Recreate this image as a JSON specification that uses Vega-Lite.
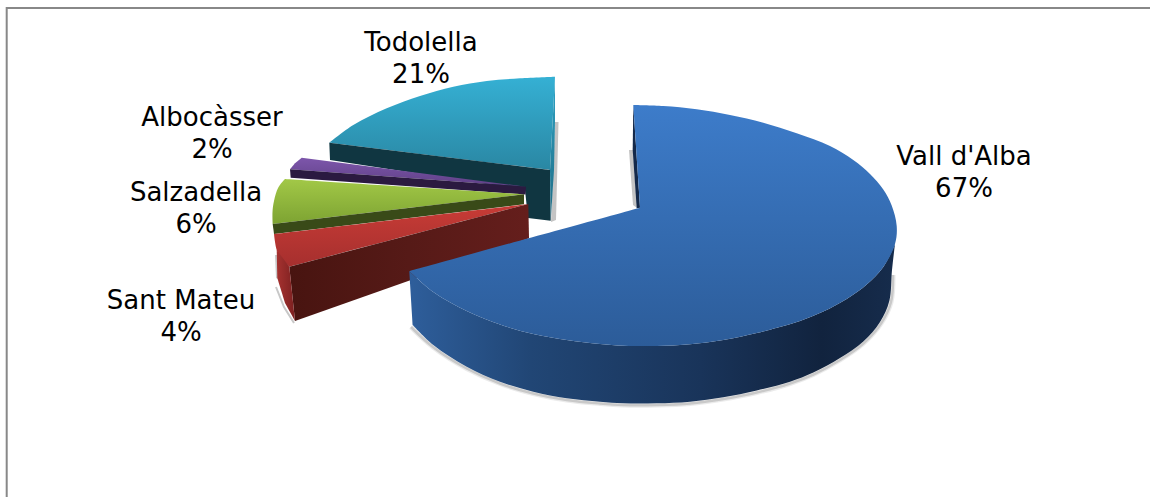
{"$schema":"https://vega.github.io/schema/vega-lite/v6.json","width":1150,"height":497,"padding":0,"autosize":{"type":"fit","contains":"padding"},"background":"white","view":{"stroke":null},
"datasets":{"blueRim":[{"x":411,"y":327},{"x":433,"y":347},{"x":466.7,"y":368.5},{"x":500,"y":383.5},{"x":533.3,"y":393.5},{"x":566.7,"y":400},{"x":600,"y":403.5},{"x":623.3,"y":405},{"x":656.7,"y":405},{"x":690,"y":403.5},{"x":723.3,"y":399},{"x":756.7,"y":392.5},{"x":790,"y":383.5},{"x":813.3,"y":374.5},{"x":840,"y":360},{"x":863.3,"y":343.5},{"x":881,"y":323.5},{"x":891,"y":302},{"x":893,"y":275}]},
"encoding":{"x":{"field":"x","type":"quantitative","scale":{"domain":[0,1150],"nice":false,"zero":false},"axis":null},"y":{"field":"y","type":"quantitative","scale":{"domain":[0,497],"nice":false,"zero":false,"reverse":true},"axis":null},"order":{"value":null}},
"layer":[
{"data":{"values":[{"x":6.7,"y":497},{"x":6.7,"y":8},{"x":1150,"y":8}]},"mark":{"type":"line","stroke":"#888888","strokeWidth":2,"clip":true}},
{"data":{"values":[{"x":555,"y":122},{"x":558.5,"y":122},{"x":556,"y":220},{"x":551,"y":222}]},"mark":{"type":"line","filled":true,"fill":"#c4c4c4","stroke":null}},
{"data":{"values":[{"x":555,"y":76.7},{"x":520,"y":78.3},{"x":486.7,"y":81},{"x":453.3,"y":86.7},{"x":420,"y":96},{"x":386.7,"y":108.3},{"x":353.3,"y":125},{"x":329.3,"y":142.7},{"x":329.3,"y":142.7},{"x":329.3,"y":142.7},{"x":550,"y":170},{"x":550,"y":170},{"x":550,"y":170}]},"mark":{"type":"line","interpolate":"catmull-rom","filled":true,"stroke":null,"fill":{"gradient":"linear","x1":0,"y1":0,"x2":0,"y2":1,"stops":[{"offset":0,"color":"#35b0d4"},{"offset":1,"color":"#2a87a3"}]}}},
{"data":{"values":[{"x":329.3,"y":142.7},{"x":550,"y":170},{"x":550.7,"y":220.7},{"x":528,"y":218},{"x":525,"y":190},{"x":330,"y":160}]},"mark":{"type":"line","filled":true,"stroke":null,"fill":"#103641"}},
{"data":{"values":[{"x":555,"y":76.7},{"x":550,"y":170},{"x":550.7,"y":220.7},{"x":554,"y":170},{"x":555,"y":122}]},"mark":{"type":"line","filled":true,"stroke":null,"fill":{"gradient":"linear","x1":0,"y1":0,"x2":0,"y2":1,"stops":[{"offset":0,"color":"#2fa3c5"},{"offset":1,"color":"#1d6a82"}]}}},
{"data":{"values":[{"x":301.7,"y":157.7},{"x":526,"y":186.7},{"x":290,"y":169.3},{"x":295,"y":163.3}]},"mark":{"type":"line","filled":true,"stroke":null,"fill":{"gradient":"linear","x1":0,"y1":0,"x2":0,"y2":1,"stops":[{"offset":0,"color":"#7d56ab"},{"offset":1,"color":"#5f4086"}]}}},
{"data":{"values":[{"x":290,"y":169.3},{"x":526,"y":186.7},{"x":525.5,"y":194.5},{"x":290.7,"y":177.7}]},"mark":{"type":"line","filled":true,"stroke":null,"fill":"#2b1a40"}},
{"data":{"values":[{"x":285,"y":179},{"x":285,"y":179},{"x":285,"y":179},{"x":524,"y":194.3},{"x":524,"y":194.3},{"x":524,"y":194.3},{"x":272.7,"y":224},{"x":272.7,"y":224},{"x":272.7,"y":224},{"x":272.5,"y":212},{"x":274,"y":201},{"x":278.3,"y":187.5},{"x":285,"y":179}]},"mark":{"type":"line","interpolate":"catmull-rom","filled":true,"stroke":null,"fill":{"gradient":"linear","x1":0,"y1":0,"x2":0,"y2":1,"stops":[{"offset":0,"color":"#a2c847"},{"offset":1,"color":"#7da332"}]}}},
{"data":{"values":[{"x":272.7,"y":224},{"x":524,"y":194.3},{"x":524,"y":204.3},{"x":274,"y":234}]},"mark":{"type":"line","filled":true,"stroke":null,"fill":"#394a18"}},
{"data":{"values":[{"x":275,"y":255},{"x":277.5,"y":255},{"x":278,"y":279},{"x":276,"y":278}]},"mark":{"type":"line","filled":true,"stroke":null,"fill":"#c8c8c8"}},
{"data":{"values":[{"x":276,"y":287},{"x":284,"y":307},{"x":294,"y":323}]},"mark":{"type":"line","stroke":"#c8c8c8","strokeWidth":2}},
{"data":{"values":[{"x":274,"y":234},{"x":274,"y":234},{"x":274,"y":234},{"x":528.3,"y":204},{"x":528.3,"y":204},{"x":528.3,"y":204},{"x":289.3,"y":266.7},{"x":289.3,"y":266.7},{"x":289.3,"y":266.7},{"x":281,"y":258},{"x":276.7,"y":250},{"x":274,"y":234}]},"mark":{"type":"line","interpolate":"catmull-rom","filled":true,"stroke":null,"fill":{"gradient":"linear","x1":0,"y1":0,"x2":0,"y2":1,"stops":[{"offset":0,"color":"#c83c36"},{"offset":1,"color":"#a62f2e"}]}}},
{"data":{"values":[{"x":289.3,"y":266.7},{"x":528.3,"y":204},{"x":529,"y":238.3},{"x":295,"y":321}]},"mark":{"type":"line","filled":true,"stroke":null,"fill":{"gradient":"linear","x1":0,"y1":0,"x2":1,"y2":0,"stops":[{"offset":0,"color":"#481410"},{"offset":0.5,"color":"#561a17"},{"offset":1,"color":"#651e1c"}]}}},
{"data":{"values":[{"x":276.7,"y":250},{"x":289.3,"y":266.7},{"x":295,"y":321},{"x":285,"y":303},{"x":277.3,"y":278}]},"mark":{"type":"line","filled":true,"stroke":null,"fill":{"gradient":"linear","x1":0,"y1":0,"x2":1,"y2":0,"stops":[{"offset":0,"color":"#a63230"},{"offset":1,"color":"#7c2020"}]}}},
{"data":{"values":[{"x":629,"y":150},{"x":633,"y":150},{"x":637,"y":208},{"x":633,"y":205}]},"mark":{"type":"line","filled":true,"stroke":null,"fill":"#c4c4c4"}},
{"data":{"name":"blueRim"},"mark":{"type":"line","interpolate":"catmull-rom","stroke":"#9a9a9a","strokeWidth":5,"opacity":0.2}},
{"data":{"name":"blueRim"},"mark":{"type":"line","interpolate":"catmull-rom","stroke":"#8a8a8a","strokeWidth":2.5,"opacity":0.35}},
{"data":{"values":[{"x":633.3,"y":104.7},{"x":640,"y":207.7},{"x":636.7,"y":208.3},{"x":632.7,"y":150}]},"mark":{"type":"line","filled":true,"stroke":null,"fill":"#14294a"}},
{"data":{"values":[{"x":895,"y":244},{"x":895,"y":244},{"x":883.3,"y":267},{"x":866.7,"y":284.5},{"x":846.7,"y":299},{"x":823.3,"y":311.5},{"x":800,"y":321},{"x":778,"y":327.5},{"x":756.7,"y":333},{"x":723.3,"y":340},{"x":690,"y":344.3},{"x":656.7,"y":346},{"x":623.3,"y":345.7},{"x":600,"y":344},{"x":566.7,"y":340},{"x":533.3,"y":334},{"x":500,"y":324.5},{"x":466.7,"y":311},{"x":433.3,"y":292},{"x":409.3,"y":271},{"x":409.3,"y":271},{"x":409.3,"y":271},{"x":412.7,"y":325},{"x":412.7,"y":325},{"x":412.7,"y":325},{"x":433.3,"y":345},{"x":466.7,"y":366.7},{"x":500,"y":381.7},{"x":533.3,"y":391.7},{"x":566.7,"y":398.3},{"x":600,"y":401.7},{"x":623.3,"y":403.3},{"x":656.7,"y":403.3},{"x":690,"y":401.7},{"x":723.3,"y":397.3},{"x":756.7,"y":390.5},{"x":790,"y":381.7},{"x":813.3,"y":372.5},{"x":840,"y":358},{"x":863.3,"y":341.5},{"x":880,"y":322},{"x":889.3,"y":301},{"x":892,"y":270},{"x":895,"y":244}]},"mark":{"type":"line","interpolate":"catmull-rom","filled":true,"stroke":null,"fill":{"gradient":"linear","x1":0,"y1":0,"x2":1,"y2":0,"stops":[{"offset":0,"color":"#2e5e9b"},{"offset":0.25,"color":"#214675"},{"offset":0.6,"color":"#19345a"},{"offset":0.85,"color":"#11233e"},{"offset":1,"color":"#162c4c"}]}}},
{"data":{"values":[{"x":633.3,"y":105},{"x":633.3,"y":105},{"x":663.3,"y":106},{"x":696.7,"y":109.3},{"x":730,"y":115},{"x":763.3,"y":122.7},{"x":796.7,"y":133.3},{"x":830,"y":146},{"x":853.3,"y":160},{"x":870,"y":174},{"x":883.3,"y":189.5},{"x":891.7,"y":205.5},{"x":896.7,"y":226},{"x":895,"y":244},{"x":883.3,"y":267},{"x":866.7,"y":284.5},{"x":846.7,"y":299},{"x":823.3,"y":311.5},{"x":800,"y":321},{"x":778,"y":327.5},{"x":756.7,"y":333},{"x":723.3,"y":340},{"x":690,"y":344.3},{"x":656.7,"y":346},{"x":623.3,"y":345.7},{"x":600,"y":344},{"x":566.7,"y":340},{"x":533.3,"y":334},{"x":500,"y":324.5},{"x":466.7,"y":311},{"x":433.3,"y":292},{"x":409.3,"y":271},{"x":409.3,"y":271},{"x":409.3,"y":271},{"x":640,"y":207.7},{"x":640,"y":207.7},{"x":640,"y":207.7}]},"mark":{"type":"line","interpolate":"catmull-rom","filled":true,"stroke":null,"fill":{"gradient":"linear","x1":0,"y1":0,"x2":0,"y2":1,"stops":[{"offset":0,"color":"#3d7cca"},{"offset":1,"color":"#2c5c99"}]}}},
{"data":{"values":[{"x":964,"y":157,"label":"Vall d'Alba\n67%"},{"x":421,"y":43,"label":"Todolella\n21%"},{"x":212,"y":118,"label":"Albocàsser\n2%"},{"x":196,"y":193,"label":"Salzadella\n6%"},{"x":181,"y":301,"label":"Sant Mateu\n4%"}]},"mark":{"type":"text","font":"DejaVu Sans","fontSize":26,"lineBreak":"\n","lineHeight":32,"align":"center","baseline":"middle","color":"#000000"},"encoding":{"text":{"field":"label"}}}
]}
